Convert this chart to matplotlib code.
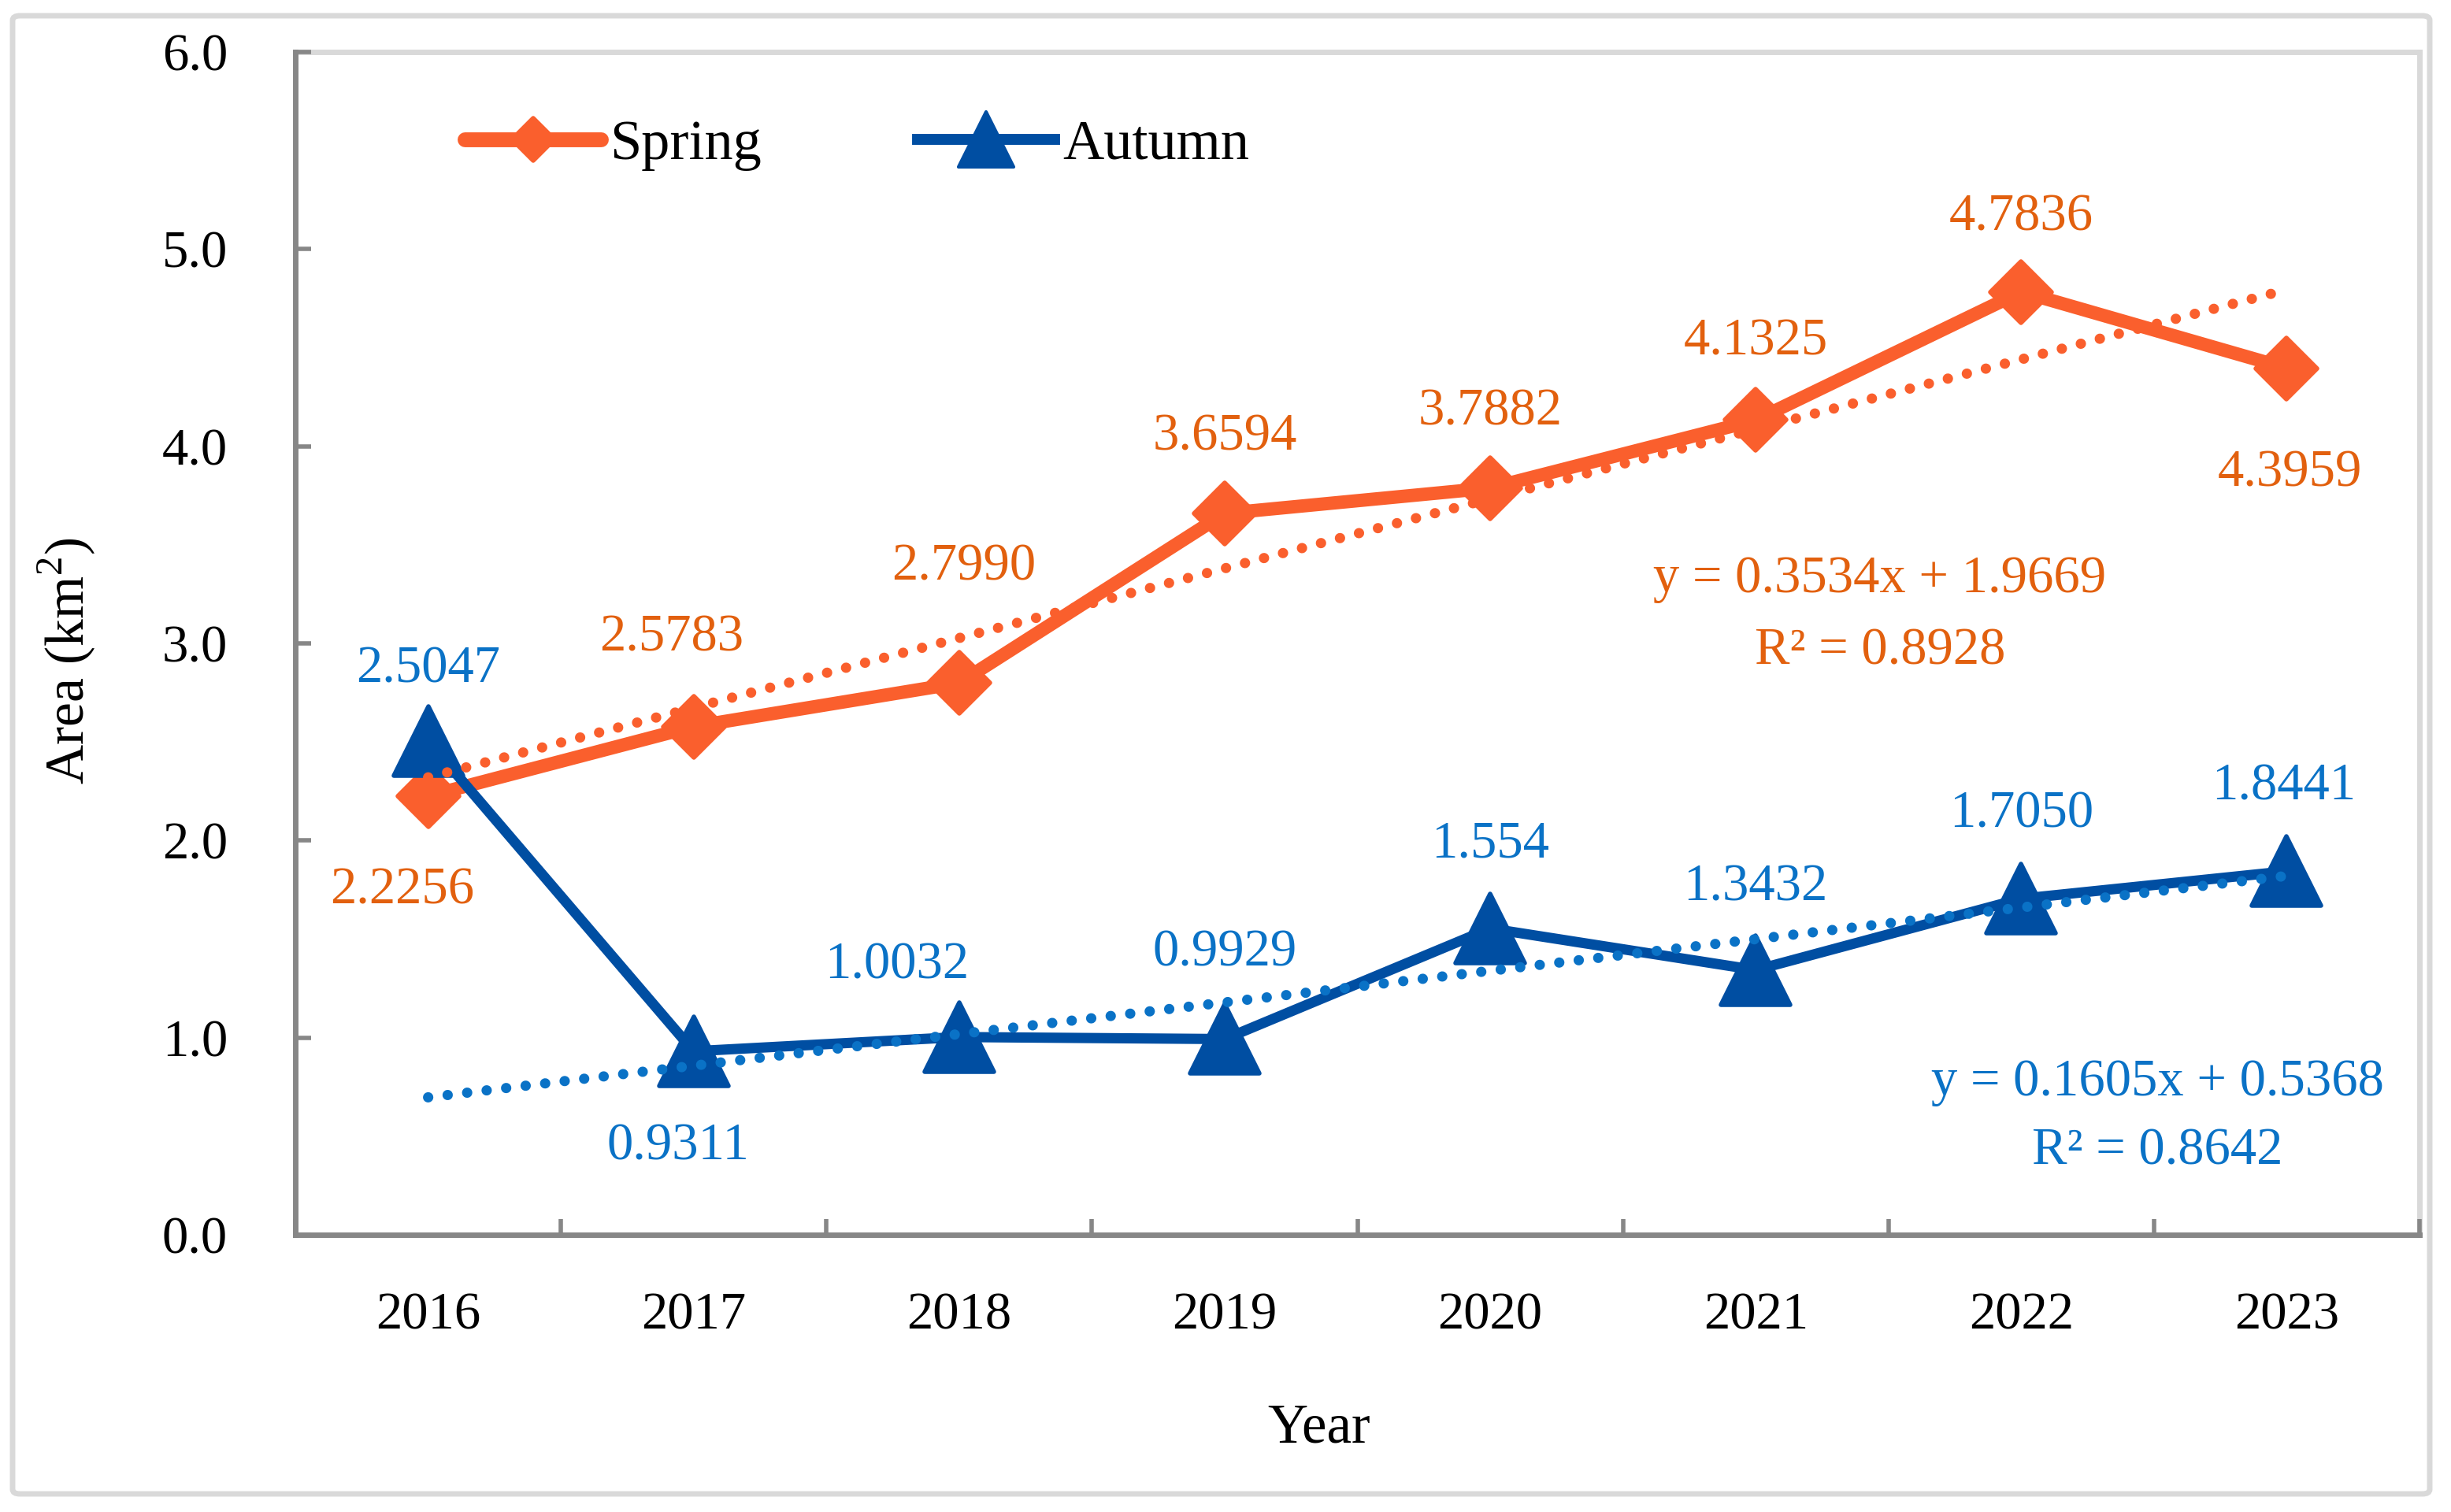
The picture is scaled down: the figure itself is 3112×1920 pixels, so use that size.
import matplotlib
matplotlib.use("Agg")
import matplotlib.pyplot as plt
from matplotlib.lines import Line2D
from matplotlib.markers import MarkerStyle
from matplotlib.patches import FancyBboxPatch
import numpy as np

plt.rcParams['font.family'] = ['Liberation Serif', 'DejaVu Serif']
plt.rcParams['mathtext.fontset'] = 'custom'
plt.rcParams['mathtext.rm'] = 'Liberation Serif'

# data
years = ['2016', '2017', '2018', '2019', '2020', '2021', '2022', '2023']
spring = [2.2256, 2.5783, 2.7990, 3.6594, 3.7882, 4.1325, 4.7836, 4.3959]
autumn = [2.5047, 0.9311, 1.0032, 0.9929, 1.554, 1.3432, 1.7050, 1.8441]
spring_labels = ['2.2256', '2.5783', '2.7990', '3.6594', '3.7882', '4.1325', '4.7836', '4.3959']
autumn_labels = ['2.5047', '0.9311', '1.0032', '0.9929', '1.554', '1.3432', '1.7050', '1.8441']
# trendline y = a*x + b, x = 1..8 (Excel)
spring_fit = (0.3534, 1.9669, 0.8928)
autumn_fit = (0.1605, 0.5368, 0.8642)

# label offsets (pixels)
spring_off = [(-33, -120), (-28, 113), (6, 147), (0, 97), (0, 97), (0, 99), (0, 95), (4, -133)]
autumn_off = [(0, 91), (-20, -121), (-79, 91), (0, 109), (0, 107), (0, 105), (0, 107), (-4, 107)]

C_SPR = '#FA5F2D'
C_SPR_T = '#E2600E'
C_AUT = '#004EA2'
C_AUT_T = '#0A72C6'
GRID = '#878787'
LIGHT = '#D9D9D9'
FS = 24

fig = plt.figure(figsize=(15.56, 9.6), dpi=200)
ax = fig.add_axes([375/3112, 1-1568/1920, (3072-375)/3112, (1568-66)/1920])

x = np.arange(len(years))

ax.plot(x, spring, color=C_SPR, lw=6.1, solid_joinstyle='round', zorder=2,
        marker=MarkerStyle('D', joinstyle='round'), ms=20, mew=2, mec=C_SPR, mfc=C_SPR)
ax.plot(x, autumn, color=C_AUT, lw=4.7, solid_joinstyle='round', zorder=3,
        marker=MarkerStyle('^', joinstyle='round'), ms=32, mew=2, mec=C_AUT, mfc=C_AUT)

xt = x + 1
ax.plot(x, spring_fit[0]*xt + spring_fit[1], color=C_SPR, lw=4.7,
        linestyle=(0, (0.01, 1.9)), dash_capstyle='round', zorder=4)
ax.plot(x, autumn_fit[0]*xt + autumn_fit[1], color=C_AUT_T, lw=4.7,
        linestyle=(0, (0.01, 1.9)), dash_capstyle='round', zorder=4)

for i in range(len(years)):
    ax.annotate(spring_labels[i], (x[i], spring[i]), xytext=spring_off[i],
                textcoords='offset pixels', ha='center', va='center',
                color=C_SPR_T, fontsize=FS, zorder=5)
    ax.annotate(autumn_labels[i], (x[i], autumn[i]), xytext=autumn_off[i],
                textcoords='offset pixels', ha='center', va='center',
                color=C_AUT_T, fontsize=FS, zorder=5)

ax.text(5.468, 3.260, 'y = %.4fx + %.4f' % spring_fit[:2], ha='center', va='baseline',
        color=C_SPR_T, fontsize=FS)
ax.text(5.468, 2.896, 'R² = %.4f' % spring_fit[2], ha='center', va='baseline',
        color=C_SPR_T, fontsize=FS)
ax.text(6.513, 0.707, 'y = %.4fx + %.4f' % autumn_fit[:2], ha='center', va='baseline',
        color=C_AUT_T, fontsize=FS)
ax.text(6.513, 0.3595, 'R² = %.4f' % autumn_fit[2], ha='center', va='baseline',
        color=C_AUT_T, fontsize=FS)

ax.set_xlim(-0.5, len(years) - 0.5)
ax.set_ylim(0, 6)

ax.set_yticks(np.arange(0, 7, 1))
ax.set_yticklabels(['%.1f' % v for v in np.arange(0, 7, 1)])
ax.set_xticks(np.arange(-0.5, len(years), 1))
ax.set_xticklabels([])
ax.set_xticks(x, minor=True)
ax.set_xticklabels(years, minor=True)
ax.tick_params(axis='y', direction='in', length=7.2, width=2, color=GRID, pad=31, labelsize=FS)
ax.tick_params(axis='x', which='major', direction='in', length=7.2, width=2, color=GRID)
ax.tick_params(axis='x', which='minor', length=0, pad=26, labelsize=FS)

for s in ['left', 'bottom']:
    ax.spines[s].set_color(GRID)
    ax.spines[s].set_linewidth(2.5)
    ax.spines[s].set_zorder(1)
for s in ['top', 'right']:
    ax.spines[s].set_color(LIGHT)
    ax.spines[s].set_linewidth(2.5)
    ax.spines[s].set_zorder(0.5)

handles = [
    Line2D([], [], color=C_SPR, lw=6.8, solid_capstyle='round',
           marker=MarkerStyle('D', joinstyle='round'), ms=13.5, mew=2, mec=C_SPR),
    Line2D([], [], color=C_AUT, lw=5,
           marker=MarkerStyle('^', joinstyle='round'), ms=25, mew=1.5, mec=C_AUT),
]
ax.legend(handles, ['Spring', 'Autumn'], loc='center left', bbox_to_anchor=(0.0797, 0.9214),
          ncol=2, frameon=False, fontsize=26, borderpad=0, borderaxespad=0,
          handlelength=2.4, handletextpad=0.15, columnspacing=2.75, numpoints=1)

fig.text(1675/3112, 1-1832/1920, 'Year', ha='center', va='baseline', fontsize=25.5)
fig.text(85/3112, 1-839/1920, 'Area (km$^{2}$)', ha='center', va='center',
         rotation=90, fontsize=25)

border = FancyBboxPatch((16/3112, 1-1897/1920), (3085-16)/3112, (1897-20)/1920,
                        boxstyle='round,pad=0,rounding_size=0.003', transform=fig.transFigure,
                        facecolor='none', edgecolor=LIGHT, lw=2.5)
fig.patches.append(border)

fig.savefig('out.png', dpi=200)
